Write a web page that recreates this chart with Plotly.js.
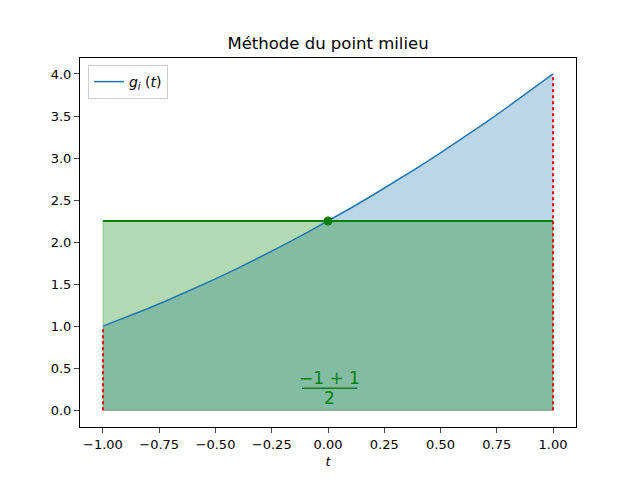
<!DOCTYPE html>
<html>
<head>
<meta charset="utf-8">
<script src="https://cdn.plot.ly/plotly-3.0.1.min.js"></script>
<style>html,body{margin:0;padding:0;background:#fff;}#chart{width:640px;height:480px;}</style>
</head>
<body>
<div id="chart"></div>
<script>
// Curve values
var tValues = [-1.0,-0.9,-0.8,-0.7,-0.6,-0.5,-0.4,-0.3,-0.2,-0.1,0.0,0.1,0.2,0.3,0.4,0.5,0.6,0.7,0.8,0.9,1.0];
var gValues = [1.0,1.1025,1.21,1.3225,1.44,1.5625,1.69,1.8225,1.96,2.1025,2.25,2.4025,2.56,2.7225,2.89,3.0625,3.24,3.4225,3.61,3.8025,4.0];
// Interval and midpoint
var aLeft = -1.0, bRight = 1.0;
var midT = 0.0, midG = 2.25;
var gLeft = 1.0, gRight = 4.0;
var xTicks = [-1.0,-0.75,-0.5,-0.25,0,0.25,0.5,0.75,1.0];
var xTickText = ["\u22121.00","\u22120.75","\u22120.50","\u22120.25","0.00","0.25","0.50","0.75","1.00"];
var yTicks = [0,0.5,1,1.5,2,2.5,3,3.5,4];
var yTickText = ["0.0","0.5","1.0","1.5","2.0","2.5","3.0","3.5","4.0"];

var traces = [
  {x: tValues, y: gValues, type:'scatter', mode:'lines', fill:'tozeroy',
   fillcolor:'rgba(31,119,180,0.3)', line:{width:0, color:'rgba(31,119,180,0)'}, showlegend:false, hoverinfo:'skip'},
  {x:[aLeft,aLeft,bRight,bRight,aLeft], y:[0,midG,midG,0,0], type:'scatter', mode:'lines', fill:'toself',
   fillcolor:'rgba(0,128,0,0.3)', line:{width:1, color:'rgba(0,128,0,0.3)'}, showlegend:false, hoverinfo:'skip'},
  {x:[aLeft,bRight], y:[0,0], type:'scatter', mode:'lines', line:{width:2, color:'rgba(150,150,150,0.5)'}, showlegend:false, hoverinfo:'skip'},
  {x: tValues, y: gValues, type:'scatter', mode:'lines', name:'<i>g<sub>i</sub></i> (<i>t</i>)',
   line:{color:'#1f77b4', width:1.5}},
  {x:[aLeft,bRight], y:[midG,midG], type:'scatter', mode:'lines', line:{color:'green', width:2}, showlegend:false},
  {x:[aLeft,aLeft], y:[0,gLeft], type:'scatter', mode:'lines', line:{color:'red', width:2, dash:'dot'}, showlegend:false},
  {x:[bRight,bRight], y:[0,gRight], type:'scatter', mode:'lines', line:{color:'red', width:2, dash:'dot'}, showlegend:false},
  {x:[midT], y:[midG], type:'scatter', mode:'markers', marker:{color:'green', size:9}, showlegend:false}
];

var layout = {
  width:640, height:480,
  margin:{l:80, r:64, t:58, b:53},
  paper_bgcolor:'#fff', plot_bgcolor:'#fff',
  font:{family:'DejaVu Sans', size:13, color:'#000'},
  title:{text:'Méthode du point milieu', font:{size:16.5}, x:0.5125, xanchor:'center', y:0.91, yanchor:'middle'},
  xaxis:{range:[-1.102,1.102], tickvals:xTicks, ticktext:xTickText, ticks:'outside', ticklen:5, tickwidth:1,
         showline:true, linecolor:'#000', linewidth:1, mirror:true, showgrid:false, zeroline:false,
         title:{text:'<i>t</i>', font:{size:13}, standoff:6}},
  yaxis:{range:[-0.2,4.19], tickvals:yTicks, ticktext:yTickText, ticks:'outside', ticklen:5, tickwidth:1,
         showline:true, linecolor:'#000', linewidth:1, mirror:true, showgrid:false, zeroline:false},
  legend:{x:0.016, y:0.981, xanchor:'left', yanchor:'top', bgcolor:'rgba(255,255,255,0.8)', bordercolor:'#ccc', borderwidth:1,
          font:{size:14}},
  shapes:[
    {type:'line', xref:'x', yref:'y', x0:-0.115, x1:0.13, y0:0.262, y1:0.262, line:{color:'green', width:1.5}}
  ],
  annotations:[
    {x:0.008, y:0.38, xref:'x', yref:'y', text:'\u22121 + 1', showarrow:false, font:{size:17, color:'green'}},
    {x:0.008, y:0.145, xref:'x', yref:'y', text:'2', showarrow:false, font:{size:17, color:'green'}}
  ]
};
Plotly.newPlot('chart', traces, layout, {displayModeBar:false, staticPlot:true});
</script>
</body>
</html>
